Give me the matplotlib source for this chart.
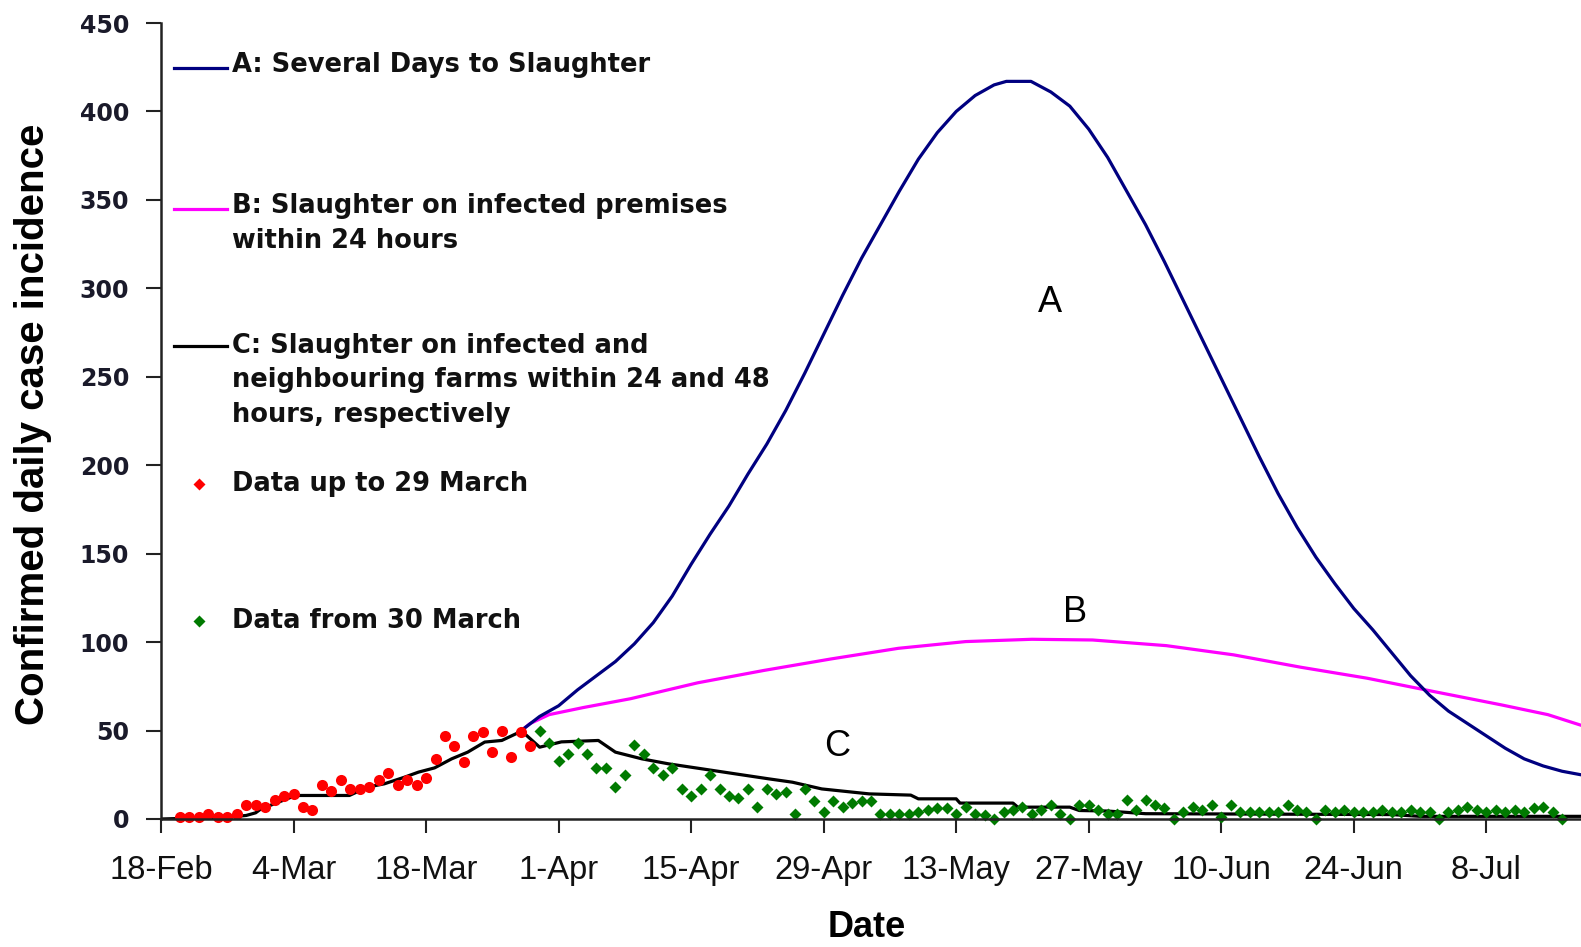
import numpy as np
import matplotlib.pyplot as plt

plt.rcParams['font.family'] = ['Liberation Sans', 'DejaVu Sans']

# ------------------------------------------------------------
# data (x = days after 18 Feb 2001)
# ------------------------------------------------------------

tick_days = [0, 14, 28, 42, 56, 70, 84, 98, 112, 126, 140]
tick_labels = ['18-Feb', '4-Mar', '18-Mar', '1-Apr', '15-Apr', '29-Apr',
               '13-May', '27-May', '10-Jun', '24-Jun', '8-Jul']

# observed cases up to 29 March
red_day = np.arange(2, 40)
red_val = [1, 1, 1, 3, 1, 1, 3, 8, 8, 7, 11, 13, 14, 7, 5, 19, 16, 22, 17, 17,
           18, 22, 26, 19, 22, 19, 23, 34, 47, 41, 32, 47, 49, 38, 50, 35, 49, 41]

# observed cases from 30 March
green_day = np.arange(40, 149)
green_val = [50, 43, 33, 37, 43, 37, 29, 29, 18, 25, 42, 37, 29, 25, 29, 17, 13, 17, 25, 17,
             13, 12, 17, 7, 17, 14, 15, 3, 17, 10, 4, 10, 7, 9, 10, 10, 3, 3, 3, 3,
             4, 5, 6, 6, 3, 7, 3, 2, 0, 4, 5, 7, 3, 5, 8, 3, 0, 8, 8, 5,
             3, 3, 11, 5, 11, 8, 6, 0, 4, 7, 5, 8, 1, 8, 4, 4, 4, 4, 4, 8,
             5, 4, 0, 5, 4, 5, 4, 4, 4, 5, 4, 4, 5, 4, 4, 0, 4, 5, 7, 5,
             4, 5, 4, 5, 4, 6, 7, 4, 0]

# model A: several days to slaughter
a_day = [38.3, 40, 42, 44, 46, 48, 50, 52, 54, 55, 56, 58, 60, 62, 64, 66, 68, 70,
         72, 74, 76, 78, 80, 82, 84, 86, 88, 89.3, 91.9, 94, 96, 98, 100, 102, 104,
         106, 108, 110, 112, 114, 116, 118, 120, 122, 124, 126, 128, 130, 132, 134,
         136, 138, 140, 142, 144, 146, 148, 150]
a_val = [51, 58, 64, 73, 81, 89, 99, 111, 126, 135, 144, 161, 177, 195, 212, 231, 252, 274,
         296, 317, 336, 355, 373, 388, 400, 409, 415, 417, 417, 411, 403, 390, 374, 355, 336,
         315, 293, 271, 249, 227, 205, 184, 165, 148, 133, 119, 107, 94, 81, 70,
         61, 54, 47, 40, 34, 30, 27, 25]

# model B: slaughter on infected premises within 24 hours
b_day = [38.3, 39, 41, 44.6, 49.6, 56.7, 63.7, 70.8, 77.9, 85, 92, 98.4, 106.2,
         113.3, 120.4, 127.4, 134.5, 141.6, 146.5, 150]
b_val = [51, 54, 59, 63, 68, 77, 84, 90.5, 96.5, 100.3, 101.6, 101.2, 98,
         92.8, 85.8, 79.6, 72, 64.5, 59, 53]

# model C: slaughter on infected and neighbouring farms
c_day = [0, 7, 9, 10, 10.5, 12.3, 13.7, 14.4, 19.9, 21.8, 23.6, 25.7, 27.2, 28.9,
         30.7, 32.4, 34.2, 36, 38.1, 40, 42.3, 46.2, 48, 50.8, 53.6, 57.1, 60.7,
         64.2, 66.7, 69.8, 74.8, 79.2, 80, 84, 84.4, 90, 90.5, 96, 97, 100, 104,
         130, 133, 150]
c_val = [0, 1, 2, 3.5, 5.5, 9.3, 12.2, 13.3, 13.3, 18, 19.9, 23.6, 26.5, 28.9,
         34, 37.8, 43.5, 44.4, 49.7, 40.6, 43.6, 44.4, 37.8, 34, 31.2, 28.4, 25.5,
         22.7, 20.8, 17, 14.2, 13.5, 11.4, 11.4, 9, 9, 6.7, 6.7, 4.8, 4.5, 3,
         2.5, 1.5, 1.5]

# ------------------------------------------------------------
# figure
# ------------------------------------------------------------

fig = plt.figure(figsize=(15.81, 9.47), dpi=100)
ax = fig.add_axes([161 / 1581, 1 - 819 / 947, 1420 / 1581, 796 / 947])

ax.plot(b_day, b_val, color='#FF00FF', lw=2.3)
ax.plot(a_day, a_val, color='#000080', lw=2.3)
ax.plot(c_day, c_val, color='black', lw=2.3)
ax.plot(red_day, red_val, 'o', color='#FF0000', ms=8, mec='none', clip_on=False)
ax.plot(green_day, green_val, 'D', color='#007A00', ms=6.5, mec='none', clip_on=False)

ax.set_xlim(0, 150)
ax.set_ylim(0, 450)
ax.set_xticks(tick_days)
ax.set_xticklabels(tick_labels, fontsize=23.5, color='#111111')
ax.set_yticks(np.arange(0, 451, 50))
ax.set_yticklabels([str(v) for v in range(0, 451, 50)], fontsize=17,
                   fontweight='bold', family='DejaVu Sans', color='#1a1a2a')
ax.tick_params(axis='y', direction='out', length=11, width=1.5, pad=12, color='#222222')
ax.tick_params(axis='x', direction='out', length=10, width=1.5, pad=16, color='#222222')

for s in ['top', 'right']:
    ax.spines[s].set_visible(False)
for s in ['left', 'bottom']:
    ax.spines[s].set_linewidth(1.8)
    ax.spines[s].set_color('#222222')

ax.set_xlabel('Date', fontsize=26, fontweight='bold')
ax.xaxis.set_label_coords(0.497, -0.114)
ax.set_ylabel('Confirmed daily case incidence', fontsize=29, fontweight='bold')
ax.yaxis.set_label_coords(-0.077, 0.496)

# curve labels
ax.text(93.9, 292, 'A', fontsize=26, ha='center', va='center')
ax.text(96.6, 117, 'B', fontsize=26, ha='center', va='center')
ax.text(71.4, 41, 'C', fontsize=26, ha='center', va='center')

# ------------------------------------------------------------
# legend drawn by hand inside the axes
# ------------------------------------------------------------

def axc(px, py):
    return (px - 161) / 1420, (819 - py) / 796

leg_font = dict(fontsize=18.5, fontweight='bold', family='DejaVu Sans',
                color='#111111', va='center', ha='left', linespacing=1.42)

for y_line, y_text, col, txt in [
        (67.5, 65, '#000080', 'A: Several Days to Slaughter'),
        (208.7, 223.4, '#FF00FF', 'B: Slaughter on infected premises\nwithin 24 hours'),
        (345.8, 380.1, 'black', 'C: Slaughter on infected and\nneighbouring farms within 24 and 48\nhours, respectively')]:
    x0, y0 = axc(174, y_line)
    x1, _ = axc(227, y_line)
    ax.plot([x0, x1], [y0, y0], color=col, lw=2.3, transform=ax.transAxes, clip_on=False)
    tx, ty = axc(232, y_text)
    ax.text(tx, ty, txt, transform=ax.transAxes, **leg_font)

for y, col, txt in [(484, '#FF0000', 'Data up to 29 March'),
                    (621, '#007A00', 'Data from 30 March')]:
    mx, my = axc(198.6, y)
    ax.plot([mx], [my], 'D', color=col, ms=6.5, mec='none', transform=ax.transAxes)
    tx, ty = axc(232, y)
    ax.text(tx, ty, txt, transform=ax.transAxes, **leg_font)

fig.savefig('out.png', dpi=100)
